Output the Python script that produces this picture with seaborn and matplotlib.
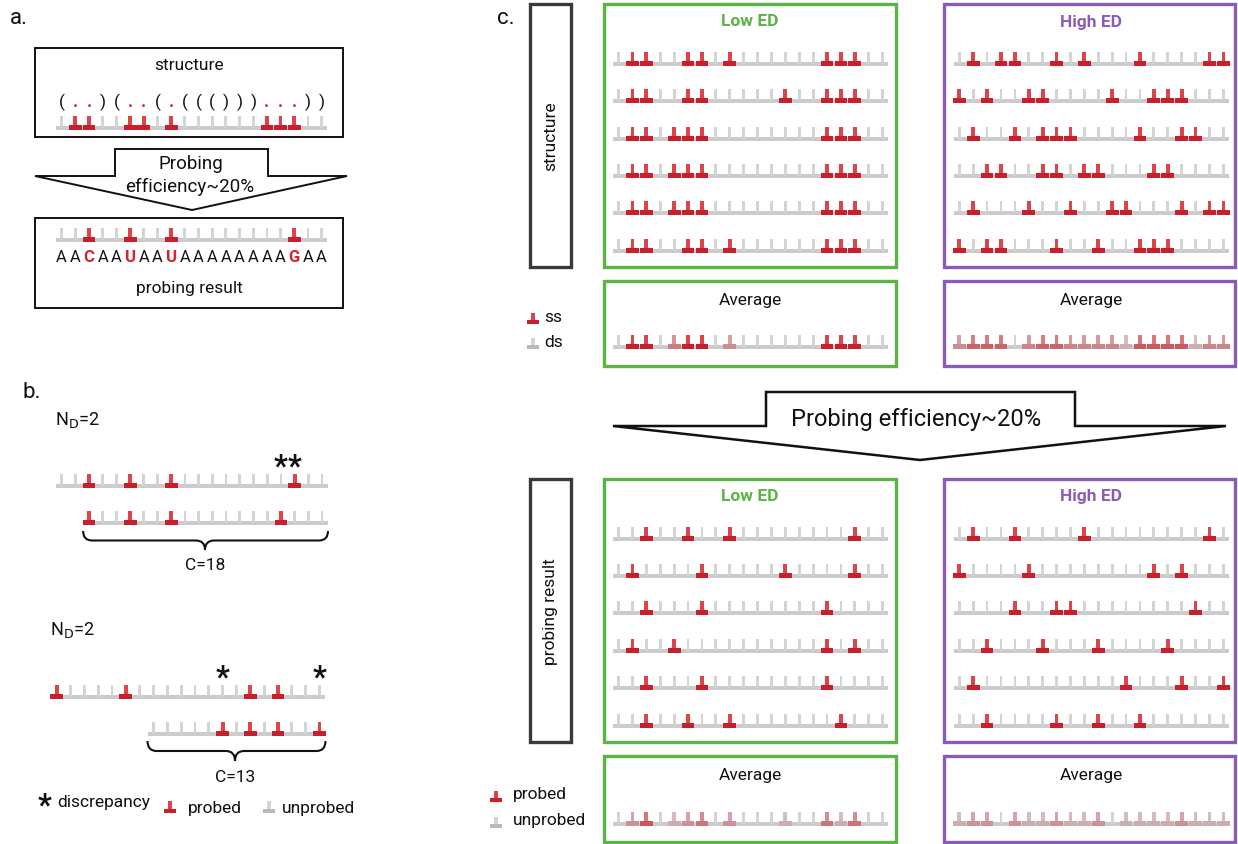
import numpy as np
import matplotlib
matplotlib.use("Agg")
import matplotlib.pyplot as plt
import seaborn as sns
from matplotlib.patches import Rectangle, Polygon, PathPatch
from matplotlib.path import Path
from matplotlib.colors import to_rgb

# ---------------- data ----------------
N_SITES = 20

# panel a: one structure and one probing read
dot_bracket = "(..)(..(.((()))...))"
sequence = "AACAAUAAUAAAAAAAAGAA"
a_structure_ss = [1, 2, 5, 6, 8, 15, 16, 17]
a_probed = [2, 5, 8, 17]

# panel b: pairs of overlapping reads
b1_top = [2, 5, 8, 17]
b1_bottom = [2, 5, 8, 16]
b1_bottom_start = 2
b1_discrepancy = [16, 17]
b1_coverage = "C=18"

b2_top = [0, 5, 14, 16]
b2_bottom = [12, 14, 16, 19]
b2_bottom_start = 7
b2_discrepancy = [12, 19]
b2_coverage = "C=13"

nd_label = r"N$_\mathrm{D}$=2"

# panel c: single-stranded sites per structure, probed sites per read
low_ed_structure = [
    [1, 2, 5, 6, 8, 15, 16, 17],
    [1, 2, 5, 6, 12, 15, 16, 17],
    [1, 2, 4, 5, 6, 15, 16, 17],
    [1, 2, 4, 5, 6, 15, 16, 17],
    [1, 2, 4, 5, 6, 15, 16, 17],
    [1, 2, 5, 6, 8, 15, 16, 17],
]
high_ed_structure = [
    [1, 3, 4, 7, 9, 13, 18, 19],
    [0, 2, 5, 6, 11, 14, 15, 16],
    [1, 4, 6, 7, 8, 13, 16, 17],
    [2, 3, 6, 7, 9, 10, 14, 15],
    [1, 5, 8, 11, 12, 16, 18, 19],
    [0, 2, 3, 7, 10, 13, 14, 15],
]
low_ed_probing = [
    [2, 5, 8, 17],
    [1, 6, 12, 17],
    [2, 6, 15],
    [1, 4, 15, 17],
    [2, 6, 15],
    [2, 5, 8, 16],
]
high_ed_probing = [
    [1, 4, 9, 18],
    [0, 5, 14, 16],
    [4, 7, 8, 17],
    [2, 6, 10, 15],
    [1, 12, 16, 19],
    [2, 7, 10, 13],
]
low_ed_structure_avg = [0, 1, 1, 0, 0.45, 1, 1, 0, 0.35, 0, 0, 0, 0, 0, 0, 1, 1, 1, 0, 0]
high_ed_structure_avg = [0.35, 0.6, 0.6, 0.6, 0, 0.4, 0.6, 0.6, 0.4, 0.4,
                         0.4, 0.4, 0.15, 0.65, 0.65, 0.65, 0.65, 0.15, 0.4, 0.4]
low_ed_probing_avg = [0, 0.33, 0.67, 0, 0.17, 0.33, 0.5, 0, 0.33, 0,
                      0, 0, 0.17, 0, 0, 0.5, 0.17, 0.5, 0, 0]
high_ed_probing_avg = [0.17, 0.33, 0.33, 0, 0.33, 0.17, 0.17, 0.33, 0.17, 0.17,
                       0.33, 0, 0.17, 0.17, 0.17, 0.17, 0.33, 0.17, 0.17, 0.17]

# ---------------- style ----------------
sns.set_theme(style="white")
plt.rcParams["font.family"] = ["Roboto", "DejaVu Sans"]

BACKBONE = "#cbcbcb"
GRAY_STEM = "#d4d4d4"
RED_STEM = "#de4349"
RED_BASE = "#c81f2a"
RED_TEXT = "#d3262e"
GREEN = "#5cb346"
PURPLE = "#8a5cb9"
DARK = "#3a3a3a"
INK = "#111111"

fig = plt.figure(figsize=(12.38, 8.45), dpi=100)
ax = fig.add_axes([0, 0, 1, 1])
ax.set_xlim(0, 1238)
ax.set_ylim(845, 0)
ax.axis("off")


def blend(c0, c1, v):
    a, b = np.array(to_rgb(c0)), np.array(to_rgb(c1))
    return tuple((1 - v) * a + v * b)


def levels_from(sites):
    lv = np.zeros(N_SITES)
    lv[list(sites)] = 1.0
    return lv


def draw_strand(x_first, dx, y, levels, start=0, stop=N_SITES, stem_h=12.5):
    xs = x_first + dx * np.arange(start, stop)
    lv = np.asarray(levels, dtype=float)[start:stop]
    ax.add_patch(Rectangle((xs[0] - 5.5, y - 1.7), xs[-1] - xs[0] + 11, 3.4,
                           facecolor=BACKBONE, lw=0, zorder=2))
    for x, v in zip(xs, lv):
        if v <= 0:
            ax.add_patch(Rectangle((x - 1.4, y - stem_h), 2.8, stem_h,
                                   facecolor=GRAY_STEM, lw=0, zorder=3))
        else:
            ax.add_patch(Rectangle((x - 1.9, y - stem_h), 3.8, stem_h,
                                   facecolor=blend(GRAY_STEM, RED_STEM, v), lw=0, zorder=3))
            ax.add_patch(Rectangle((x - 6.4, y - 2.8), 12.8, 4.9,
                                   facecolor=blend(BACKBONE, RED_BASE, v), lw=0, zorder=4))


def draw_icon(x, y, red, stem_h=10):
    stem = RED_STEM if red else GRAY_STEM
    base = RED_BASE if red else "#b9b9b9"
    ax.add_patch(Rectangle((x - 1.8, y - stem_h), 3.6, stem_h, facecolor=stem, lw=0))
    ax.add_patch(Rectangle((x - 6, y - 2.5), 12, 4.6, facecolor=base, lw=0))


def draw_brace(x0, x1, y0, y1, xm=None):
    xm = (x0 + x1) / 2 if xm is None else xm
    ym = y0 + (y1 - y0) * 0.5
    r = 9
    verts = [(x0, y0), (x0, ym), (x0 + r, ym), (xm - r, ym), (xm, ym), (xm, y1),
             (xm, ym), (xm + r, ym), (x1 - r, ym), (x1, ym), (x1, y0)]
    codes = [Path.MOVETO, Path.CURVE3, Path.CURVE3, Path.LINETO, Path.CURVE3, Path.CURVE3,
             Path.CURVE3, Path.CURVE3, Path.LINETO, Path.CURVE3, Path.CURVE3]
    ax.add_patch(PathPatch(Path(verts, codes), facecolor="none", edgecolor=INK, lw=1.5))


def box(x0, y0, x1, y1, color, lw):
    ax.add_patch(Rectangle((x0, y0), x1 - x0, y1 - y0, facecolor="white",
                           edgecolor=color, lw=lw, zorder=1))


# ================= panel a =================
ax.text(10, 18, "a.", fontsize=16, va="center", ha="left", color=INK)
A_X0, A_DX = 61.7, 13.68

box(35, 49, 343, 138, INK, 1.4)
ax.text(189, 66, "structure", fontsize=12.5, ha="center", va="center", color=INK)
for i, ch in enumerate(dot_bracket):
    ax.text(A_X0 + A_DX * i, 107, ch, fontsize=12.5, ha="center", va="baseline",
            color=RED_TEXT if ch == "." else INK,
            fontweight="bold" if ch == "." else "normal")
draw_strand(A_X0, A_DX, 129, levels_from(a_structure_ss))

arrow_a = [(115, 150), (268, 150), (268, 177), (347, 177), (192, 211), (35, 177), (115, 177)]
ax.add_patch(Polygon(arrow_a, closed=True, facecolor="white", edgecolor=INK, lw=1.4))
ax.text(191, 164, "Probing", fontsize=13.5, ha="center", va="center", color=INK)
ax.text(190, 187, "efficiency~20%", fontsize=13.5, ha="center", va="center", color=INK)

box(35, 219, 343, 309, INK, 1.4)
draw_strand(A_X0, A_DX, 241, levels_from(a_probed))
for i, ch in enumerate(sequence):
    hit = i in a_probed
    ax.text(A_X0 + A_DX * i, 262, ch, fontsize=12, ha="center", va="baseline",
            color=RED_TEXT if hit else INK, fontweight="bold" if hit else "normal")
ax.text(189, 289, "probing result", fontsize=12.5, ha="center", va="center", color=INK)

# ================= panel b =================
ax.text(22, 393, "b.", fontsize=16, va="center", ha="left", color=INK)

B1_X0, B1_DX = 61.7, 13.7
ax.text(55, 420, nd_label, fontsize=13, ha="left", va="center", color=INK)
draw_strand(B1_X0, B1_DX, 487, levels_from(b1_top))
draw_strand(B1_X0, B1_DX, 524, levels_from(b1_bottom), start=b1_bottom_start)
for i in b1_discrepancy:
    ax.text(B1_X0 + B1_DX * i, 475, "*", fontsize=22, ha="center", va="baseline",
            fontweight="bold", color=INK)
draw_brace(B1_X0 + B1_DX * b1_bottom_start - 6, B1_X0 + B1_DX * 19 + 6, 532, 551, xm=205)
ax.text(205, 566, b1_coverage, fontsize=12.5, ha="center", va="center", color=INK)

B2_X0, B2_DX = 56.7, 13.83
ax.text(50, 630, nd_label, fontsize=13, ha="left", va="center", color=INK)
draw_strand(B2_X0, B2_DX, 698, levels_from(b2_top))
draw_strand(B2_X0, B2_DX, 735, levels_from(b2_bottom), start=b2_bottom_start)
for i in b2_discrepancy:
    ax.text(B2_X0 + B2_DX * i, 686, "*", fontsize=22, ha="center", va="baseline",
            fontweight="bold", color=INK)
draw_brace(B2_X0 + B2_DX * b2_bottom_start - 6, B2_X0 + B2_DX * 19 + 6, 742, 762, xm=235)
ax.text(235, 778, b2_coverage, fontsize=12.5, ha="center", va="center", color=INK)

ax.text(45, 814, "*", fontsize=22, ha="center", va="baseline", fontweight="bold", color=INK)
ax.text(57, 803, "discrepancy", fontsize=12.5, ha="left", va="center", color=INK)
draw_icon(170, 812, True)
ax.text(188, 809, "probed", fontsize=12.5, ha="left", va="center", color=INK)
draw_icon(269, 812, False)
ax.text(282, 809, "unprobed", fontsize=12.5, ha="left", va="center", color=INK)

# ================= panel c =================
ax.text(497, 18, "c.", fontsize=16, va="center", ha="left", color=INK)
LOW_X0, HIGH_X0, C_DX = 618.5, 959.3, 13.9
STRUCT_Y = [65, 102, 140, 177, 214, 252]
PROBE_Y = [540, 577, 614, 652, 689, 727]


def panel_block(y_top, y_bot, row_y, low_rows, high_rows, avg_top, avg_bot,
                avg_y, low_avg, high_avg, label):
    box(530, y_top, 571, y_bot, DARK, 2.4)
    ax.text(550.5, (y_top + y_bot) / 2, label, fontsize=12.5, rotation=90,
            ha="center", va="center", color=INK)
    box(604, y_top, 896, y_bot, GREEN, 2.4)
    box(944, y_top, 1235, y_bot, PURPLE, 2.4)
    ax.text(750, y_top + 17, "Low ED", fontsize=12.5, fontweight="bold",
            ha="center", va="center", color=GREEN)
    ax.text(1091, y_top + 17, "High ED", fontsize=12.5, fontweight="bold",
            ha="center", va="center", color=PURPLE)
    for y, lo, hi in zip(row_y, low_rows, high_rows):
        draw_strand(LOW_X0, C_DX, y, levels_from(lo))
        draw_strand(HIGH_X0, C_DX, y, levels_from(hi))
    box(604, avg_top, 896, avg_bot, GREEN, 2.4)
    box(944, avg_top, 1235, avg_bot, PURPLE, 2.4)
    ax.text(750, avg_top + 19, "Average", fontsize=12.5, ha="center", va="center", color=INK)
    ax.text(1091, avg_top + 19, "Average", fontsize=12.5, ha="center", va="center", color=INK)
    draw_strand(LOW_X0, C_DX, avg_y, low_avg)
    draw_strand(HIGH_X0, C_DX, avg_y, high_avg)


panel_block(5, 268, STRUCT_Y, low_ed_structure, high_ed_structure,
            282, 367, 348, low_ed_structure_avg, high_ed_structure_avg, "structure")
draw_icon(533, 323, True, stem_h=9)
ax.text(544, 318, "ss", fontsize=12.5, ha="left", va="center", color=INK)
draw_icon(533, 348, False, stem_h=9)
ax.text(544, 343, "ds", fontsize=12.5, ha="left", va="center", color=INK)

arrow_c = [(766, 393), (1075, 393), (1075, 427), (1226, 427), (920, 461), (613, 427), (766, 427)]
ax.add_patch(Polygon(arrow_c, closed=True, facecolor="white", edgecolor=INK, lw=1.8))
ax.text(916, 420, "Probing efficiency~20%", fontsize=17, ha="center", va="center", color=INK)

panel_block(480, 743, PROBE_Y, low_ed_probing, high_ed_probing,
            757, 843, 825, low_ed_probing_avg, high_ed_probing_avg, "probing result")
draw_icon(496, 801, True, stem_h=9)
ax.text(513, 795, "probed", fontsize=12.5, ha="left", va="center", color=INK)
draw_icon(496, 827, False, stem_h=9)
ax.text(513, 821, "unprobed", fontsize=12.5, ha="left", va="center", color=INK)

fig.savefig("out.png", dpi=100, facecolor="white")
